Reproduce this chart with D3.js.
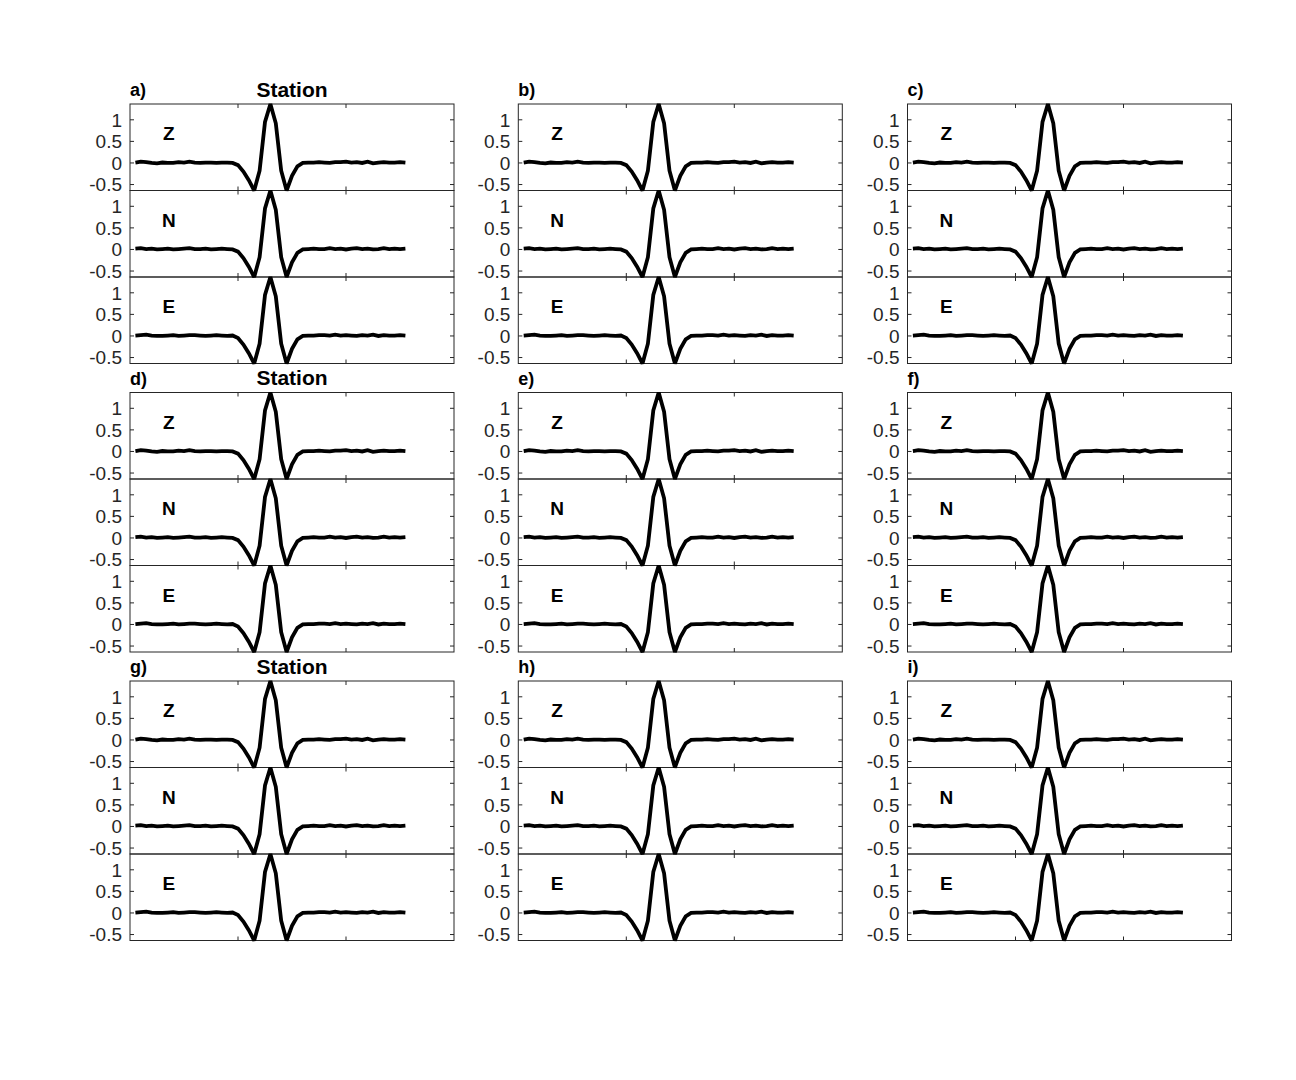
<!DOCTYPE html>
<html>
<head>
<meta charset="utf-8">
<script src="https://cdn.jsdelivr.net/npm/d3@7"></script>
<style>
  html, body { margin: 0; padding: 0; background: #fff; }
  svg { display: block; }
  text { font-family: "Liberation Sans", Arial, Helvetica, sans-serif; }
</style>
</head>
<body>
<svg id="chart" width="1296" height="1080"></svg>
<script>
// ---------------- data ----------------
const panelLabels = ["a)", "b)", "c)", "d)", "e)", "f)", "g)", "h)", "i)"];
const components = ["Z", "N", "E"];
const stationTitle = "Station";
const yTicks = [-0.5, 0, 0.5, 1];
const yTickLabels = ["-0.5", "0", "0.5", "1"];
const xTicks = [20, 40];
const xDomain = [0, 60];
const yDomain = [-0.638, 1.366];
const sampleTimes = d3.range(1, 52); // 51 samples

const waveZ = [0.01, 0.03, 0.02, 0.00, -0.01, 0.01, 0.00, 0.00, 0.02, 0.01,
  0.03, 0.01, 0.00, 0.01, 0.01, 0.00, 0.01, 0.01, 0.00,
  -0.05, -0.20, -0.40, -0.638, -0.18, 0.95, 1.366, 0.92, -0.18, -0.638, -0.30, -0.08, 0.00, 0.01,
  0.01, 0.02, 0.01, 0.00, 0.02, 0.02, 0.03, 0.01, 0.02, 0.00, 0.03, -0.01, 0.01, 0.02, 0.01, 0.01, 0.02, 0.01];
const waveN = [0.02, 0.03, 0.01, 0.02, 0.00, 0.01, 0.02, 0.00, 0.01, 0.02,
  0.03, 0.01, 0.01, 0.02, 0.00, 0.01, 0.02, 0.01, 0.00,
  -0.05, -0.20, -0.40, -0.638, -0.18, 0.95, 1.366, 0.92, -0.18, -0.638, -0.30, -0.08, 0.00, 0.01,
  0.02, 0.01, 0.01, 0.03, 0.01, 0.02, 0.00, 0.02, 0.03, 0.01, 0.02, 0.00, 0.01, 0.03, 0.01, 0.02, 0.01, 0.02];
const waveE = [0.01, 0.02, 0.03, 0.01, 0.00, 0.00, 0.01, 0.02, 0.00, 0.01,
  0.02, 0.02, 0.01, 0.00, 0.01, 0.02, 0.01, 0.00, 0.01,
  -0.05, -0.20, -0.40, -0.638, -0.18, 0.95, 1.366, 0.92, -0.18, -0.638, -0.30, -0.08, 0.00, 0.01,
  0.01, 0.02, 0.02, 0.01, 0.03, 0.01, 0.02, 0.01, 0.00, 0.02, 0.01, 0.03, 0.00, 0.02, 0.01, 0.01, 0.02, 0.01];
const waves = { Z: waveZ, N: waveN, E: waveE };
const componentLabelPos = { x: 7.2, y: 0.68 };

// ---------------- layout ----------------
const colLefts = [130, 518.3, 907.5];
const rowTops = [104, 392.5, 681];
const axW = 324;
const subH = 86.5;
const axisColor = "#262626";
const tickLen = 4;

const svg = d3.select("#chart");
const x = d3.scaleLinear().domain(xDomain).range([0, axW]);
const y = d3.scaleLinear().domain(yDomain).range([subH, 0]);
const line = d3.line().x((d, i) => x(sampleTimes[i])).y(d => y(d));

const axesLayer = svg.append("g");
const lineLayer = svg.append("g");

panelLabels.forEach((lab, p) => {
  const r = Math.floor(p / 3), c = p % 3;
  const left = colLefts[c], top = rowTops[r];

  // panel letter
  svg.append("text")
    .attr("x", left).attr("y", top - 8)
    .attr("font-size", 18).attr("font-weight", "bold")
    .attr("fill", "#000")
    .text(lab);
  if (c === 0) {
    svg.append("text")
      .attr("x", left + x((xDomain[0] + xDomain[1]) / 2)).attr("y", top - 7.5)
      .attr("text-anchor", "middle")
      .attr("font-size", 21).attr("font-weight", "bold")
      .attr("fill", "#000")
      .text(stationTitle);
  }

  components.forEach((comp, k) => {
    const g = axesLayer.append("g")
      .attr("transform", `translate(${left},${top + k * subH})`);

    // y ticks left & right (inward)
    yTicks.forEach((v, j) => {
      g.append("line").attr("x1", 0).attr("x2", tickLen)
        .attr("y1", y(v)).attr("y2", y(v))
        .attr("stroke", axisColor).attr("stroke-width", 1);
      g.append("line").attr("x1", axW - tickLen).attr("x2", axW)
        .attr("y1", y(v)).attr("y2", y(v))
        .attr("stroke", axisColor).attr("stroke-width", 1);
      g.append("text")
        .attr("x", -8).attr("y", y(v))
        .attr("dy", "0.36em")
        .attr("text-anchor", "end")
        .attr("font-size", 19)
        .attr("fill", axisColor)
        .text(yTickLabels[j]);
    });
    // x ticks top & bottom (inward)
    xTicks.forEach(v => {
      g.append("line").attr("x1", x(v)).attr("x2", x(v))
        .attr("y1", 0).attr("y2", tickLen)
        .attr("stroke", axisColor).attr("stroke-width", 1);
      g.append("line").attr("x1", x(v)).attr("x2", x(v))
        .attr("y1", subH - tickLen).attr("y2", subH)
        .attr("stroke", axisColor).attr("stroke-width", 1);
    });
    // box
    g.append("rect")
      .attr("x", 0).attr("y", 0).attr("width", axW).attr("height", subH)
      .attr("fill", "none").attr("stroke", axisColor).attr("stroke-width", 1);

    // component label
    g.append("text")
      .attr("x", x(componentLabelPos.x)).attr("y", y(componentLabelPos.y))
      .attr("dy", "0.35em")
      .attr("text-anchor", "middle")
      .attr("font-size", 19).attr("font-weight", "bold")
      .attr("fill", "#000")
      .text(comp);

    // waveform
    lineLayer.append("path")
      .attr("transform", `translate(${left},${top + k * subH})`)
      .datum(waves[comp])
      .attr("d", line)
      .attr("fill", "none")
      .attr("stroke", "#000")
      .attr("stroke-width", 3.8)
      .attr("stroke-linejoin", "miter")
      .attr("stroke-miterlimit", 2.2)
      .attr("stroke-linecap", "butt");
  });
});
</script>
</body>
</html>
